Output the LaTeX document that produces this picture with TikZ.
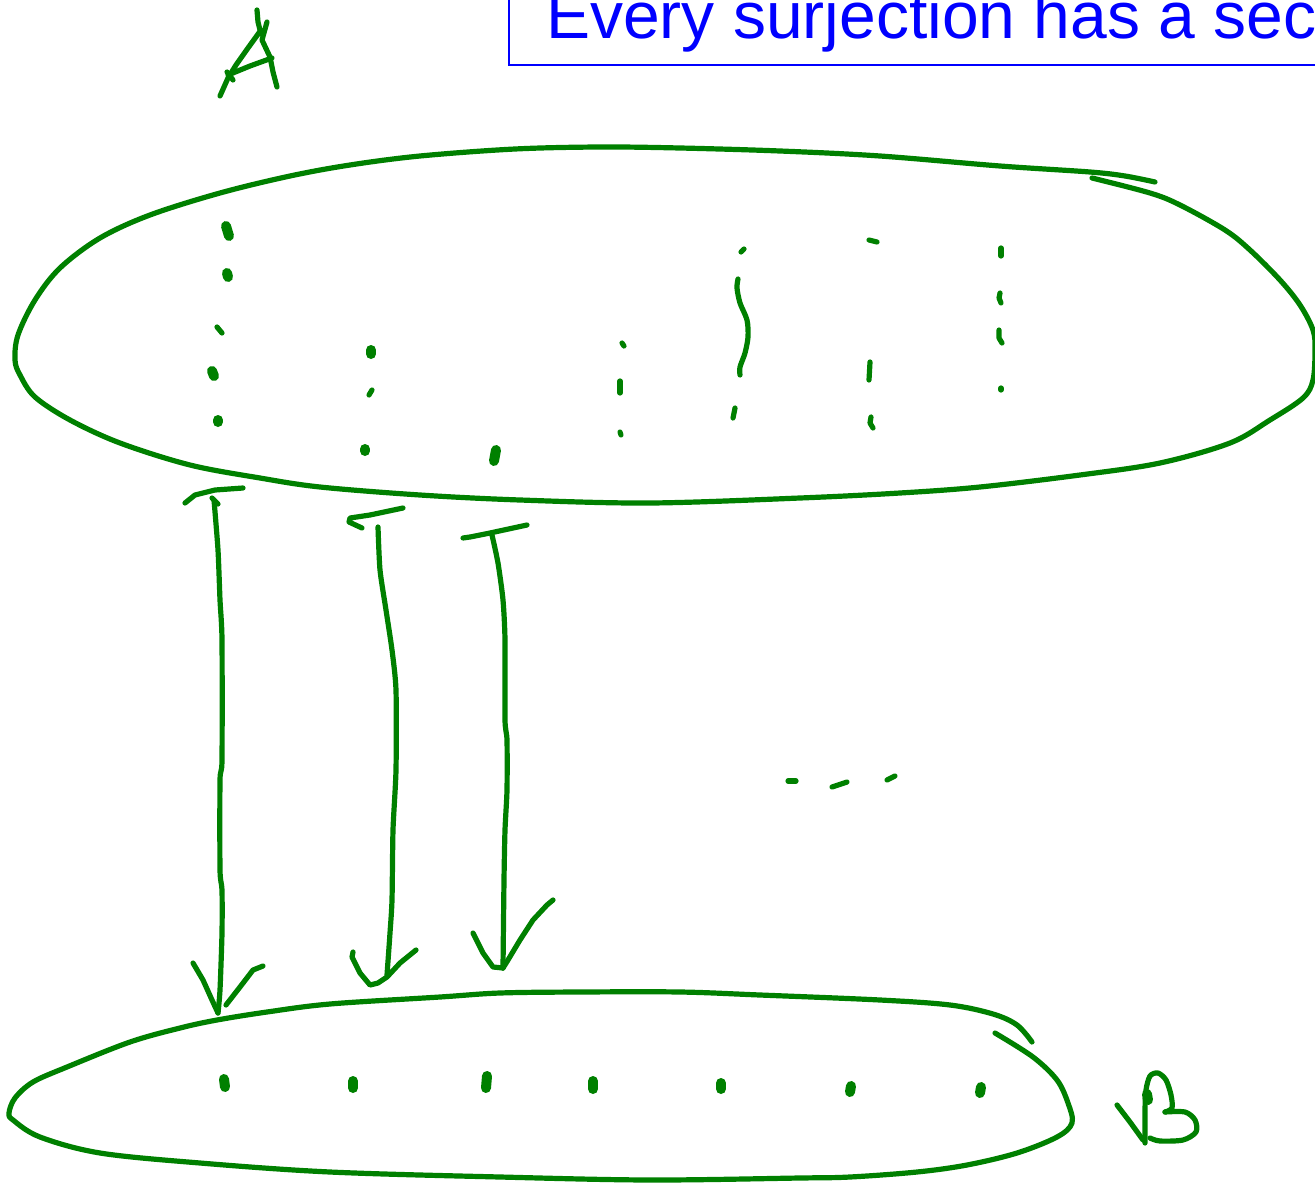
\documentclass[tikz,border=0pt]{standalone}
\usepackage{fontspec}
\setmainfont{Liberation Sans}
\definecolor{pen}{RGB}{0,128,0}
\definecolor{titleblue}{RGB}{0,0,255}
\begin{document}
\begin{tikzpicture}[x=1pt,y=-1pt,
  ink/.style={draw=pen,line width=5.2pt,line cap=round,line join=round},
  blob/.style={draw=pen,line width=10pt,line cap=round,line join=round},
  titlebox/.style={draw=titleblue,line width=2.2pt},
  titletext/.style={text=titleblue,font=\fontsize{66}{79}\selectfont,inner sep=0pt,anchor=base west}]
\useasboundingbox (0,0) rectangle (1315,1183);
\clip (0,0) rectangle (1315,1183);
% title
\draw[titlebox] (509,-20) -- (509,65) -- (1340,65);
\node[titletext] (title) at (546,38) {Every surjection has a section};
% letter A
\draw[ink] (257,10) -- (258,22) -- (261,34);
\draw[ink] (261,30) -- (248,48) -- (236,65) -- (228,78) -- (220,96);
\draw[ink] (267,22) -- (262,40) -- (270,57) -- (273,72) -- (277,87);
\draw[ink] (228,75) -- (250,66) -- (272,58);
\draw[ink] (227,72) -- (233,80);
% set A
\draw[ink] plot[smooth,tension=0.55] coordinates {(1155,182) (1125,176) (1090,172) (1000,166) (880,156) (780,151) (680,148) (600,147) (515,149) (420,156) (350,165) (290,176) (220,193) (150,215) (100,238) (60,268) (35,300) (18,335) (15,360) (20,375) (35,397) (70,420) (120,443) (190,465) (260,478) (320,487) (420,495) (520,500) (650,503) (800,498) (900,493) (980,487) (1080,475) (1160,463) (1230,443) (1270,420) (1303,398) (1313,380) (1315,350) (1313,330) (1300,305) (1280,280) (1250,250) (1225,230) (1180,205) (1150,193) (1092,178)};
% fibres in A
\draw[blob] (226,226) -- (229,236);
\draw[blob] (227,273) -- (228,277);
\draw[ink] (217,327) -- (222,333);
\draw[blob] (212,371) -- (214,376);
\draw[blob] (218,420) -- (218,422);
\draw[blob] (371,350) -- (371,354);
\draw[ink] (372,390) -- (369,395);
\draw[blob] (365,449) -- (365,451);
\draw[blob] (496,450) -- (494,461);
\draw[ink] (622,343) -- (624,346);
\draw[ink] (620,381) -- (620,393);
\draw[ink] (620,432) -- (621,435);
\draw[ink] (741,252) -- (744,249);
\draw[ink] plot[smooth] coordinates {(738,279) (737,288) (740,303) (747,320) (748,337) (745,353) (740,367) (740,375)};
\draw[ink] (735,408) -- (733,418);
\draw[ink] (869,240) -- (877,242);
\draw[ink] (870,362) -- (869,380);
\draw[ink] (871,417) -- (870,423) -- (873,428);
\draw[ink] (1001,248) -- (1001,256);
\draw[ink] (1000,293) -- (999,298) -- (1001,303);
\draw[ink] (999,330) -- (999,338) -- (1002,343);
\draw[ink] (1001,388) -- (1001,390);
% arrows
\draw[ink] (185,503) -- (195,495) -- (215,490) -- (243,488);
\draw[ink] (212,498) -- (218,504);
\draw[ink] plot[smooth,tension=0.4] coordinates {(214,500) (218,550) (220,600) (222,640) (222,760) (220,780) (220,870) (222,890) (222,933) (220,990) (218,1013)};
\draw[ink] (193,963) -- (203,980) -- (212,1000) -- (218,1013);
\draw[ink] (263,966) -- (253,970) -- (240,987) -- (226,1005);
\draw[ink] (362,528) -- (349,522) -- (350,518) -- (370,515) -- (403,508);
\draw[ink] plot[smooth,tension=0.4] coordinates {(378,527) (380,570) (386,610) (392,650) (396,690) (396,770) (393,830) (392,900) (390,933) (387,975)};
\draw[ink] (353,952) -- (352,957) -- (360,973) -- (370,985) -- (378,983) -- (387,977) -- (400,963) -- (416,950);
\draw[ink] (463,538) -- (470,537) -- (490,533) -- (527,525);
\draw[ink] plot[smooth,tension=0.4] coordinates {(492,535) (498,563) (503,600) (505,640) (505,720) (507,740) (507,790) (505,830) (504,880) (503,968)};
\draw[ink] (473,933) -- (483,953) -- (493,967) -- (503,968);
\draw[ink] (553,900) -- (547,905) -- (533,920) -- (520,940) -- (508,960) -- (503,968);
% dashes
\draw[ink] (788,781) -- (796,781);
\draw[ink] (832,787) -- (847,782);
\draw[ink] (887,780) -- (895,776);
% set B
\draw[ink] plot[smooth,tension=0.55] coordinates {(1032,1042) (1017,1025) (993,1014) (950,1005) (880,1000) (760,995) (680,992) (580,992) (500,993) (440,997) (330,1004) (267,1012) (217,1020) (180,1028) (130,1042) (67,1067) (33,1082) (15,1098) (9,1113) (13,1120) (40,1137) (100,1153) (200,1163) (330,1172) (500,1177) (650,1180) (800,1178) (850,1177) (917,1172) (967,1165) (1017,1153) (1057,1137) (1072,1123) (1068,1103) (1057,1080) (1033,1057) (995,1033)};
\draw[blob] (224,1079) -- (225,1087);
\draw[blob] (353,1081) -- (353,1088);
\draw[blob] (487,1076) -- (486,1088);
\draw[blob] (593,1081) -- (593,1089);
\draw[blob] (721,1083) -- (721,1089);
\draw[blob] (851,1086) -- (850,1092);
\draw[blob] (981,1087) -- (980,1093);
% letter B
\draw[ink] (1117,1105) -- (1130,1122) -- (1143,1140);
\draw[ink] plot[smooth,tension=0.5] coordinates {(1145,1143) (1145,1110) (1146,1090) (1150,1076) (1158,1073) (1166,1080) (1171,1095) (1172,1108) (1165,1112)};
\draw[ink] plot[smooth,tension=0.5] coordinates {(1165,1112) (1185,1112) (1195,1120) (1196,1132) (1183,1140) (1160,1141) (1150,1138)};
\draw[blob] (1147,1094) -- (1148,1100);
\end{tikzpicture}
\end{document}
